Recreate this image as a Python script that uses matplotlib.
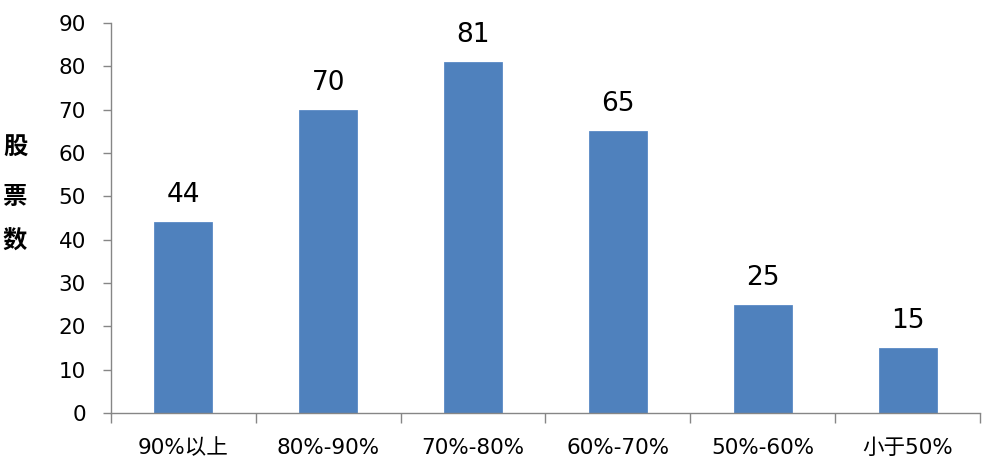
import matplotlib
matplotlib.use("Agg")
import matplotlib.pyplot as plt
from matplotlib.ticker import FixedLocator, NullFormatter

plt.rcParams['font.family'] = ['DejaVu Sans', 'Noto Sans CJK SC']

categories = ["90%以上", "80%-90%", "70%-80%", "60%-70%", "50%-60%", "小于50%"]
values = [44, 70, 81, 65, 25, 15]
yticks = [0, 10, 20, 30, 40, 50, 60, 70, 80, 90]
ylabel_chars = ["股", "票", "数"]

bar_color = "#4F81BD"
axis_color = "#868686"

fig = plt.figure(figsize=(9.93, 4.68), dpi=100)
ax = fig.add_axes([111/993, 1-413/468, (980-111)/993, (413-23)/468])

x = list(range(len(categories)))
bars = ax.bar(x, values, width=0.4, color=bar_color, edgecolor="#5A8AC6", linewidth=0.6)

for xi, v in zip(x, values):
    ax.annotate(str(v), (xi, v), xytext=(0, 10), textcoords="offset points",
                ha="center", va="bottom", fontsize=19, color="#000000")

ax.set_xlim(-0.5, len(categories) - 0.5)
ax.set_ylim(0, 90)
ax.set_yticks(yticks)
ax.set_yticklabels([str(t) for t in yticks], fontsize=15.5)

ax.set_xticks(x)
ax.set_xticklabels(categories, fontsize=15.5)
ax.xaxis.set_minor_locator(FixedLocator([i - 0.5 for i in range(len(categories) + 1)]))
ax.xaxis.set_minor_formatter(NullFormatter())
ax.tick_params(axis="x", which="major", length=0, pad=18)
ax.tick_params(axis="x", which="minor", length=7, width=1, color=axis_color, direction="out")
ax.tick_params(axis="y", which="major", length=6, width=1, color=axis_color, pad=12, direction="out")

for s in ["top", "right"]:
    ax.spines[s].set_visible(False)
for s in ["left", "bottom"]:
    ax.spines[s].set_color(axis_color)
    ax.spines[s].set_linewidth(1)

ys = [148, 197, 242]
for ch, yy in zip(ylabel_chars, ys):
    fig.text(15/993, 1 - yy/468, ch, ha="center", va="center", fontsize=17.5,
             fontweight="bold", family=["Noto Sans CJK SC"])

fig.savefig("out.png", dpi=100)
